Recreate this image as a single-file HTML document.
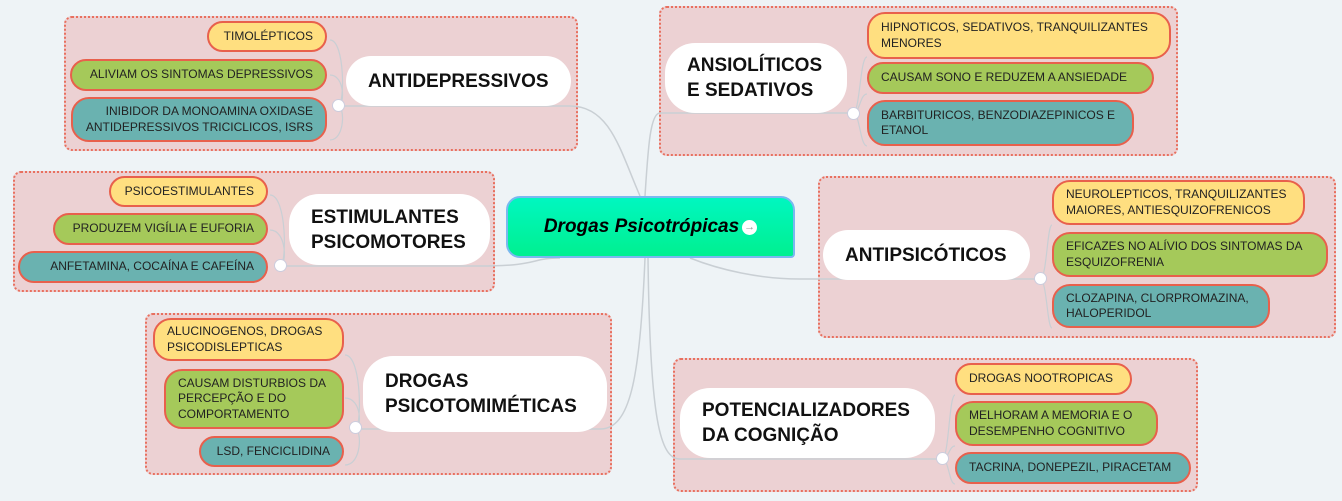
<!DOCTYPE html>
<html><head><meta charset="utf-8"><style>
body{margin:0;width:1342px;height:501px;background:#eef3f6;position:relative;overflow:hidden;font-family:"Liberation Sans",sans-serif}
.g{position:absolute;background:#ecd1d3;border:2px dotted #e8705f;border-radius:8px;box-sizing:border-box}
.t{position:absolute;background:#fff;border-radius:30px;box-sizing:border-box;display:flex;align-items:center;font-weight:bold;font-size:19px;color:#111;line-height:25px;padding-left:22px;white-space:nowrap}
.l{position:absolute;border:2px solid #e8604c;border-radius:18px;box-sizing:border-box;display:flex;align-items:center;font-size:12px;color:#222;line-height:15.5px;padding:0 12px;white-space:nowrap}
.y{background:#ffdf80}.gr{background:#a5c95a}.tl{background:#6ab2b0}
.r{justify-content:flex-end;text-align:right}
.c{position:absolute;width:11px;height:11px;border-radius:50%;background:#fff;border:1px solid #ccd}
svg{position:absolute;left:0;top:0}
</style></head><body>
<div class="g" style="left:64px;top:16px;width:514px;height:135px"></div>
<div class="g" style="left:13px;top:171px;width:482px;height:121px"></div>
<div class="g" style="left:145px;top:313px;width:467px;height:162px"></div>
<div class="g" style="left:659px;top:6px;width:519px;height:150px"></div>
<div class="g" style="left:818px;top:176px;width:518px;height:162px"></div>
<div class="g" style="left:673px;top:358px;width:525px;height:134px"></div>
<svg width="1342" height="501" fill="none" stroke="#c9cfd4" stroke-width="1.5">
<path d="M338 106 H570 C610 106 620 150 640 196"/>
<path d="M280 266 H480 C540 266 530 258 560 258"/>
<path d="M355 429 H600 C630 429 640 380 645 258"/>
<path d="M853 113 H660 C650 113 648 150 645 196"/>
<path d="M1040 279 H800 C760 279 720 270 690 258"/>
<path d="M942 459 H680 C660 459 650 420 648 258"/>
<path d="M645 196 V258"/>
<path d="M338 106 C345 106 345 40 330 40 M338 106 C345 106 345 75 330 75 M338 106 C345 106 345 140 330 140" stroke-width="1.2"/>
<path d="M280 266 C287 266 287 195 270 195 M280 266 C287 266 287 230 270 230" stroke-width="1.2"/>
<path d="M355 429 C362 429 362 355 345 355 M355 429 C362 429 362 398 345 398 M355 429 C362 429 362 465 345 465" stroke-width="1.2"/>
<path d="M853 113 C860 113 860 57 867 57 M853 113 C860 113 860 94 867 94 M853 113 C860 113 860 146 867 146" stroke-width="1.2"/>
<path d="M1040 279 C1047 279 1047 225 1052 225 M1040 279 C1047 279 1047 328 1052 328" stroke-width="1.2"/>
<path d="M942 459 C949 459 949 395 955 395 M942 459 C949 459 949 446 955 446 M942 459 C949 459 949 484 955 484" stroke-width="1.2"/>
</svg>
<div style="position:absolute;left:506px;top:196px;width:289px;height:62px;box-sizing:border-box;background:linear-gradient(#00f7c0,#00f090);border:2px solid #7ab8f0;border-radius:14px 14px 4px 14px;display:flex;align-items:center;justify-content:center;font-weight:bold;font-style:italic;font-size:19px;color:#000;white-space:nowrap">Drogas Psicotrópicas<span style="display:inline-block;width:15px;height:15px;border-radius:50%;background:#fff;color:#999;font-size:11px;line-height:15px;text-align:center;font-style:normal;margin-left:3px">→</span></div>

<div class="t" style="left:346px;top:56px;width:225px;height:50px">ANTIDEPRESSIVOS</div>
<div class="l y r" style="left:207px;top:21px;width:120px;height:31px">TIMOLÉPTICOS</div>
<div class="l gr r" style="left:70px;top:59px;width:257px;height:32px">ALIVIAM OS SINTOMAS DEPRESSIVOS</div>
<div class="l tl r" style="left:71px;top:97px;width:256px;height:45px">INIBIDOR DA MONOAMINA OXIDASE<br>ANTIDEPRESSIVOS TRICICLICOS, ISRS</div>
<div class="c" style="left:332px;top:99px"></div>

<div class="t" style="left:289px;top:194px;width:201px;height:71px">ESTIMULANTES<br>PSICOMOTORES</div>
<div class="l y r" style="left:109px;top:176px;width:159px;height:31px">PSICOESTIMULANTES</div>
<div class="l gr r" style="left:53px;top:213px;width:215px;height:32px">PRODUZEM VIGÍLIA E EUFORIA</div>
<div class="l tl r" style="left:18px;top:251px;width:250px;height:32px">ANFETAMINA, COCAÍNA E CAFEÍNA</div>
<div class="c" style="left:274px;top:259px"></div>

<div class="t" style="left:363px;top:356px;width:244px;height:76px">DROGAS<br>PSICOTOMIMÉTICAS</div>
<div class="l y" style="left:153px;top:318px;width:191px;height:43px">ALUCINOGENOS, DROGAS<br>PSICODISLEPTICAS</div>
<div class="l gr" style="left:164px;top:369px;width:180px;height:60px">CAUSAM DISTURBIOS DA<br>PERCEPÇÃO E DO<br>COMPORTAMENTO</div>
<div class="l tl r" style="left:199px;top:436px;width:145px;height:31px">LSD, FENCICLIDINA</div>
<div class="c" style="left:349px;top:421px"></div>

<div class="t" style="left:665px;top:43px;width:182px;height:70px">ANSIOLÍTICOS<br>E SEDATIVOS</div>
<div class="l y" style="left:867px;top:12px;width:304px;height:47px">HIPNOTICOS, SEDATIVOS, TRANQUILIZANTES<br>MENORES</div>
<div class="l gr" style="left:867px;top:62px;width:287px;height:32px">CAUSAM SONO E REDUZEM A ANSIEDADE</div>
<div class="l tl" style="left:867px;top:100px;width:267px;height:46px">BARBITURICOS, BENZODIAZEPINICOS E<br>ETANOL</div>
<div class="c" style="left:847px;top:107px"></div>

<div class="t" style="left:823px;top:230px;width:207px;height:50px">ANTIPSICÓTICOS</div>
<div class="l y" style="left:1052px;top:180px;width:253px;height:45px">NEUROLEPTICOS, TRANQUILIZANTES<br>MAIORES, ANTIESQUIZOFRENICOS</div>
<div class="l gr" style="left:1052px;top:232px;width:276px;height:45px">EFICAZES NO ALÍVIO DOS SINTOMAS DA<br>ESQUIZOFRENIA</div>
<div class="l tl" style="left:1052px;top:284px;width:218px;height:44px">CLOZAPINA, CLORPROMAZINA,<br>HALOPERIDOL</div>
<div class="c" style="left:1034px;top:272px"></div>

<div class="t" style="left:680px;top:388px;width:255px;height:70px">POTENCIALIZADORES<br>DA COGNIÇÃO</div>
<div class="l y" style="left:955px;top:363px;width:177px;height:32px">DROGAS NOOTROPICAS</div>
<div class="l gr" style="left:955px;top:401px;width:203px;height:45px">MELHORAM A MEMORIA E O<br>DESEMPENHO COGNITIVO</div>
<div class="l tl" style="left:955px;top:452px;width:236px;height:32px">TACRINA, DONEPEZIL, PIRACETAM</div>
<div class="c" style="left:936px;top:452px"></div>
</body></html>
